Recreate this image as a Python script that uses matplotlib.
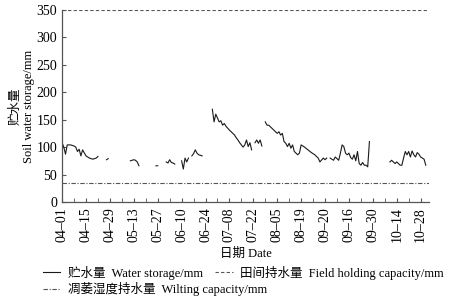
import numpy as np
import matplotlib
matplotlib.use("Agg")
import matplotlib.pyplot as plt

plt.rcParams['font.family'] = ['Liberation Serif', 'Noto Sans CJK SC']
plt.rcParams['axes.unicode_minus'] = False

# ---------------------------------------------------------
# Data (days after 04-01, soil water storage in mm; nan = no record)
# ---------------------------------------------------------
nan = np.nan

days = [0, 1, 2, 3, 5, 7, 8, 9, 10, 11, 12, 14, 16, 18, 20, 21, 23,
        26, 27, 30,
        40, 42, 43, 44, 45, 50,
        55, 56, 58,
        61, 62, 63, 64, 65, 66, 68,
        70, 71, 72, 73, 74, 75,
        76, 77, 78, 79, 80, 81, 82, 85,
        88, 89, 90, 91, 92, 93, 94, 95, 96, 98, 99, 101, 102, 103, 104, 105,
        106, 107, 108, 109, 110, 111, 112,
        113, 114, 115, 116, 117, 118,
        119, 120, 121, 122, 123, 124, 125, 126, 127, 128, 129, 130, 131, 132,
        133, 134, 135, 136, 137, 138, 139, 140, 141, 142, 144, 146, 148, 150,
        151, 153, 154, 155, 156,
        157, 159, 160, 162, 163, 164, 165, 166, 167, 168, 169, 170, 171, 172,
        173, 174, 175, 176, 177, 178, 179, 180, 185,
        192, 193, 195, 196, 198, 199, 200, 201, 202, 203, 204, 205, 206, 207,
        208, 209, 210, 212, 213]

storage = [108, 100, 87, 104, 104, 102, 100, 92, 96, 84, 95, 84, 80, 78, 80, 83, nan,
           77, 79, nan,
           75, 77, 76, 73, 66, nan,
           66, 66, nan,
           73, 71, 77, 72, 71, 69, nan,
           75, 60, 80, 73, 80, nan,
           84, 88, 95, 89, 86, 85, 84, nan,
           169, 146, 160, 153, 146, 148, 140, 143, 138, 131, 128, 122, 117, 113, 108, 104,
           100, 104, 113, 101, 108, 95, nan,
           108, 113, 107, 113, 102, nan,
           146, 140, 140, 137, 134, 131, 128, 125, 128, 122, 125, 110, 107, 101,
           107, 98, 104, 92, 89, 86, 89, 104, 102, 100, 95, 90, 86, 80,
           73, 80, 77, 80, nan,
           80, 76, 82, 76, 89, 104, 101, 89, 86, 89, 81, 78, 86, 75,
           92, 70, 67, 72, 67, 67, 64, 110, nan,
           73, 76, 70, 73, 67, 67, 80, 92, 86, 92, 82, 93, 86, 82,
           90, 87, 82, 78, 67]

field_capacity = 350
wilting_capacity = 35

tick_days = [0, 14, 28, 42, 56, 70, 84, 98, 112, 126, 140, 154, 168, 182, 196, 210]
tick_labels = ["04–01", "04–15", "04–29", "05–13", "05–27", "06–10", "06–24",
               "07–08", "07–22", "08–05", "08–19", "09–20", "09–16", "09–30",
               "10–14", "10–28"]

# ---------------------------------------------------------
# Plot
# ---------------------------------------------------------
fig = plt.figure(figsize=(4.6, 3.01), dpi=100)
ax = fig.add_axes([0.135, 0.329, 0.798, 0.638])

l_sto, = ax.plot(days, storage, color="#1a1a1a", lw=0.8,
                 label="贮水量  Water storage/mm")
l_fc = ax.axhline(field_capacity, color="#555555", lw=0.8, ls=(0, (3, 2)),
                  label="田间持水量  Field holding capacity/mm")
l_wc = ax.axhline(wilting_capacity, color="#555555", lw=0.8,
                  ls=(0, (4, 1.5, 1, 1.5)),
                  label="凋萎湿度持水量  Wilting capacity/mm")

ax.set_xlim(0, 215)
ax.set_ylim(0, 350)
ax.set_yticks(np.arange(0, 351, 50))
ax.set_xticks(tick_days)
ax.set_xticklabels(tick_labels, rotation=90)
ax.set_xticks(np.arange(7, 215, 14), minor=True)
ax.tick_params(axis="both", which="both", direction="in", labelsize=10,
               color="#555555", length=3)
ax.tick_params(axis="x", pad=4)

for s in ["top", "right"]:
    ax.spines[s].set_visible(False)
for s in ["left", "bottom"]:
    ax.spines[s].set_color("#555555")
    ax.spines[s].set_linewidth(0.9)

ax.set_xlabel("日期 Date", fontsize=9, labelpad=4)
ax.set_ylabel("贮水量\nSoil water storage/mm", fontsize=9, labelpad=1,
              linespacing=1.2)

leg_kw = dict(loc="upper left", frameon=False, fontsize=9, handlelength=1.4,
              handletextpad=0.6, columnspacing=1.0, borderaxespad=0,
              borderpad=0)
fig.legend(handles=[l_sto, l_fc], ncol=2, bbox_to_anchor=(0.093, 0.118),
           **leg_kw)
fig.legend(handles=[l_wc], ncol=1, bbox_to_anchor=(0.093, 0.062), **leg_kw)

fig.savefig("out.png", dpi=100)
